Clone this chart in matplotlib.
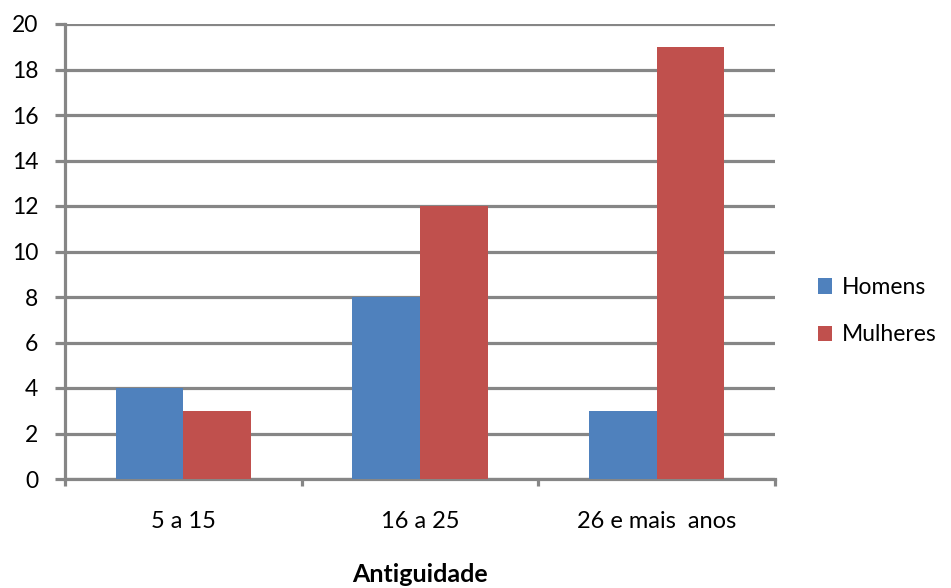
import matplotlib
matplotlib.use("Agg")
import matplotlib.pyplot as plt
import numpy as np

categories = ["5 a 15", "16 a 25", "26 e mais  anos"]
homens = [4, 8, 3]
mulheres = [3, 12, 19]

blue = "#4F81BD"
red = "#C0504D"
grid = "#868686"

plt.rcParams["font.family"] = ["Lato", "DejaVu Sans"]

fig = plt.figure(figsize=(9.51, 5.88), dpi=100)
ax = fig.add_axes([65 / 951, 1 - 479 / 588, 710 / 951, 455 / 588])

x = np.arange(len(categories))
w = 1 / 3.5
ax.bar(x - w / 2, homens, width=w, color=blue, label="Homens", zorder=3)
ax.bar(x + w / 2, mulheres, width=w, color=red, label="Mulheres", zorder=3)

ax.set_xlim(-0.5, len(categories) - 0.5)
ax.set_ylim(0, 20)
ax.set_yticks(range(0, 21, 2))
ax.yaxis.grid(True, color=grid, linewidth=2.3, zorder=0)
ax.set_axisbelow(True)

ax.set_xticks(np.arange(-0.5, len(categories), 1))
ax.set_xticklabels([])
ax.set_xticks(x, minor=True)
ax.set_xticklabels(categories, minor=True, fontsize=17)
ax.tick_params(axis="x", which="minor", length=0, pad=23)
ax.tick_params(axis="x", which="major", length=5, width=2.3, color=grid)
ax.tick_params(axis="y", length=7.2, width=2.3, color=grid, labelsize=16.5, pad=12)

for s in ["top", "right"]:
    ax.spines[s].set_visible(False)
for s in ["left", "bottom"]:
    ax.spines[s].set_color(grid)
    ax.spines[s].set_linewidth(2.3)

fig.text(420 / 951, 1 - 575 / 588, "Antiguidade", fontsize=18,
         fontweight="bold", ha="center", va="center")

ax.legend(loc="center left", bbox_to_anchor=(1.06, 0.369), frameon=False,
          fontsize=16.5, handlelength=0.65, handleheight=0.65, handletextpad=0.43,
          labelspacing=1.15, borderpad=0, borderaxespad=0)

fig.savefig("out.png", dpi=100)
